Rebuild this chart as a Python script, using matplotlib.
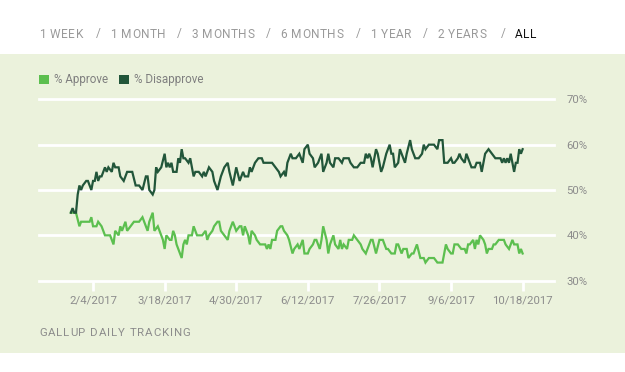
import matplotlib
matplotlib.use('Agg')
import matplotlib.pyplot as plt
from matplotlib.patches import Rectangle

plt.rcParams['font.family'] = ['Roboto', 'DejaVu Sans']

# day index (Gallup daily tracking points) and % values
disapprove_day = [0, 1, 2, 3, 4, 5, 6, 7, 9, 10, 12, 13, 14, 15, 16, 17, 18, 20, 21, 22,
                  24, 25, 26, 28, 29, 31, 33, 36, 38, 40, 42, 44, 45, 46, 48, 49, 50, 51, 53, 55,
                  56, 57, 58, 59, 60, 62, 63, 64, 65, 66, 67, 69, 70, 72, 73, 75, 77, 78, 79, 81,
                  83, 84, 86, 88, 90, 92, 93, 95, 96, 97, 99, 100, 101, 102, 104, 105, 106, 108, 110, 112,
                  113, 117, 118, 120, 122, 123, 125, 126, 127, 129, 130, 132, 134, 135, 136, 137, 139, 140, 142, 143,
                  145, 147, 148, 150, 151, 152, 154, 155, 157, 159, 160, 163, 164, 166, 168, 170, 172, 173, 174, 175,
                  176, 177, 179, 180, 182, 183, 185, 186, 187, 188, 189, 190, 192, 193, 194, 196, 197, 199, 200, 202,
                  204, 206, 207, 208, 210, 213, 215, 216, 218, 219, 221, 223, 224, 225, 227, 228, 229, 231, 232, 234,
                  235, 237, 238, 240, 241, 243, 245, 247, 249, 252, 253, 254, 255, 256, 257, 258, 259, 260, 261, 262,
                  263, 264, 265]
disapprove = [45, 46, 45, 45, 49, 51, 50, 51, 52, 52, 50, 52, 52, 54, 52, 53, 53, 55, 54, 55,
              54, 56, 55, 55, 53, 52, 54, 54, 51, 51, 50, 53, 53, 50, 49, 50, 55, 54, 55, 58,
              55, 56, 55, 56, 54, 54, 57, 56, 59, 57, 57, 56, 57, 53, 54, 54, 53, 54, 53, 55,
              54, 52, 50, 53, 55, 56, 54, 51, 53, 55, 52, 53, 54, 53, 53, 55, 54, 56, 57, 57,
              56, 56, 56, 55, 54, 53, 54, 53, 56, 58, 57, 57, 58, 57, 56, 59, 60, 58, 57, 55,
              56, 58, 54, 56, 58, 56, 55, 57, 57, 56, 57, 57, 56, 55, 55, 56, 56, 58, 57, 58,
              57, 55, 59, 58, 54, 55, 58, 59, 60, 58, 58, 55, 56, 59, 58, 56, 58, 61, 59, 57,
              57, 58, 60, 59, 60, 60, 59, 61, 61, 56, 56, 57, 56, 56, 57, 58, 57, 56, 58, 56,
              55, 55, 56, 56, 54, 58, 59, 58, 57, 57, 56, 57, 56, 57, 56, 58, 56, 54, 56, 56,
              59, 58, 59]

approve_day = [0, 2, 3, 5, 6, 9, 11, 12, 13, 15, 16, 18, 20, 23, 24, 25, 26, 28, 29, 30,
               32, 33, 35, 37, 40, 42, 44, 45, 46, 48, 49, 51, 52, 54, 55, 56, 58, 59, 60, 61,
               62, 64, 65, 66, 67, 68, 69, 71, 72, 74, 77, 79, 80, 81, 83, 84, 86, 87, 88, 90,
               92, 93, 95, 96, 97, 99, 100, 101, 102, 104, 105, 106, 108, 109, 111, 114, 115, 116, 117, 118,
               120, 121, 123, 124, 125, 127, 128, 130, 131, 133, 134, 136, 137, 139, 140, 142, 143, 144, 146, 147,
               148, 150, 151, 152, 154, 155, 157, 158, 159, 160, 162, 163, 165, 166, 168, 170, 171, 173, 175, 176,
               177, 179, 181, 183, 185, 186, 188, 190, 191, 192, 194, 195, 197, 198, 200, 201, 203, 205, 207, 208,
               210, 213, 215, 218, 220, 221, 223, 224, 225, 227, 229, 231, 232, 233, 234, 236, 237, 238, 239, 240,
               242, 243, 244, 245, 247, 248, 249, 251, 254, 255, 257, 259, 260, 262, 263, 264, 265]
approve = [45, 45, 45, 42, 43, 43, 43, 44, 42, 42, 43, 42, 40, 40, 39, 38, 41, 40, 42, 41,
           43, 41, 42, 43, 43, 44, 42, 41, 43, 45, 41, 42, 41, 39, 37, 40, 39, 39, 41, 40,
           38, 36, 35, 38, 39, 38, 40, 40, 42, 40, 40, 41, 39, 40, 41, 42, 43, 43, 41, 40,
           39, 41, 43, 42, 41, 42, 42, 40, 42, 40, 38, 41, 40, 39, 38, 38, 37, 38, 37, 39,
           39, 41, 42, 42, 41, 40, 39, 36, 37, 38, 37, 39, 36, 36, 37, 38, 39, 39, 37, 39,
           42, 39, 36, 38, 40, 38, 37, 39, 37, 38, 37, 39, 39, 40, 39, 38, 37, 36, 38, 39,
           39, 36, 39, 39, 37, 37, 36, 36, 38, 38, 36, 37, 37, 35, 36, 36, 38, 35, 35, 34,
           35, 35, 34, 34, 38, 37, 36, 36, 38, 38, 37, 37, 36, 38, 38, 39, 37, 39, 38, 40,
           39, 38, 36, 37, 37, 38, 38, 39, 39, 38, 37, 39, 38, 38, 36, 37, 36]

tick_days = [13, 55, 97, 139, 181, 223, 265]
tick_labels = ['2/4/2017', '3/18/2017', '4/30/2017', '6/12/2017', '7/26/2017', '9/6/2017', '10/18/2017']
y_ticks = [30, 40, 50, 60, 70]

nav_items = ['1 WEEK', '1 MONTH', '3 MONTHS', '6 MONTHS', '1 YEAR', '2 YEARS', 'ALL']
nav_x = [39, 110, 191, 280, 370, 437, 515]

W, H = 625, 372
panel = '#ebf2dc'
c_app = '#5cbf4f'
c_dis = '#22563a'
grey = '#8c8c8c'

fig = plt.figure(figsize=(W / 100, H / 100), dpi=100)
fig.patch.set_facecolor('white')
renderer = fig.canvas.get_renderer()


def spaced_text(x, y, s, spacing, **kw):
    # draw text one character at a time, adding letter spacing (pixels)
    for ch in s:
        t = fig.text(x / W, 1 - y / H, ch, va='center', ha='left', **kw)
        w = t.get_window_extent(renderer).width if ch != ' ' else None
        if w is None:
            probe = fig.text(0, 0, 'a a', **kw)
            probe2 = fig.text(0, 0, 'aa', **kw)
            w = probe.get_window_extent(renderer).width - probe2.get_window_extent(renderer).width
            probe.remove()
            probe2.remove()
        x += w + spacing


# green panel
fig.add_artist(Rectangle((0, 1 - 353 / H), 1, (353 - 54) / H, transform=fig.transFigure,
                         facecolor=panel, edgecolor='none', zorder=0))

# range selector row
for i, (txt, x) in enumerate(zip(nav_items, nav_x)):
    col = '#111111' if txt == 'ALL' else '#9a9a9a'
    spaced_text(x, 34, txt, 0.6, color=col, fontsize=8.6)
    if i < len(nav_items) - 1:
        fig.text((nav_x[i + 1] - 14) / W, 1 - 34 / H, '/', color='#9a9a9a', fontsize=8.6,
                 va='center', ha='left')

left, right = 39, 554
top, bottom = 99.3, 280.7
ax = fig.add_axes([left / W, 1 - bottom / H, (right - left) / W, (bottom - top) / H])
ax.set_facecolor('none')

for v in y_ticks:
    ax.axhline(v, color='white', lw=2, clip_on=False, zorder=1)

ax.plot(approve_day, approve, color=c_app, lw=1.6, zorder=3, solid_joinstyle='miter')
ax.plot(disapprove_day, disapprove, color=c_dis, lw=1.6, zorder=4, solid_joinstyle='miter')

ax.set_xlim(-18.7, 283.4)
ax.set_ylim(30, 70)
for s in ax.spines.values():
    s.set_visible(False)

ax.set_xticks(tick_days)
ax.set_xticklabels(tick_labels)
ax.tick_params(axis='x', length=7.5, width=2, color='white', pad=3.5, labelsize=8.2, labelcolor=grey)

ax.yaxis.tick_right()
ax.set_yticks(y_ticks)
ax.set_yticklabels([f'{v}%' for v in y_ticks])
ax.tick_params(axis='y', length=0, pad=9, labelsize=8.2, labelcolor=grey)

# legend
for x0, label, col in [(39, '% Approve', c_app), (119, '% Disapprove', c_dis)]:
    fig.add_artist(Rectangle((x0 / W, 1 - 84 / H), 9.5 / W, 9.5 / H, transform=fig.transFigure,
                             facecolor=col, edgecolor='none'))
    fig.text((x0 + 15) / W, 1 - 79.5 / H, label, color='#7f7f7f', fontsize=8.4, va='center', ha='left')

spaced_text(39, 332.5, 'GALLUP DAILY TRACKING', 0.9, color=grey, fontsize=8.2)

fig.savefig('out.png', dpi=100, facecolor=fig.get_facecolor())
